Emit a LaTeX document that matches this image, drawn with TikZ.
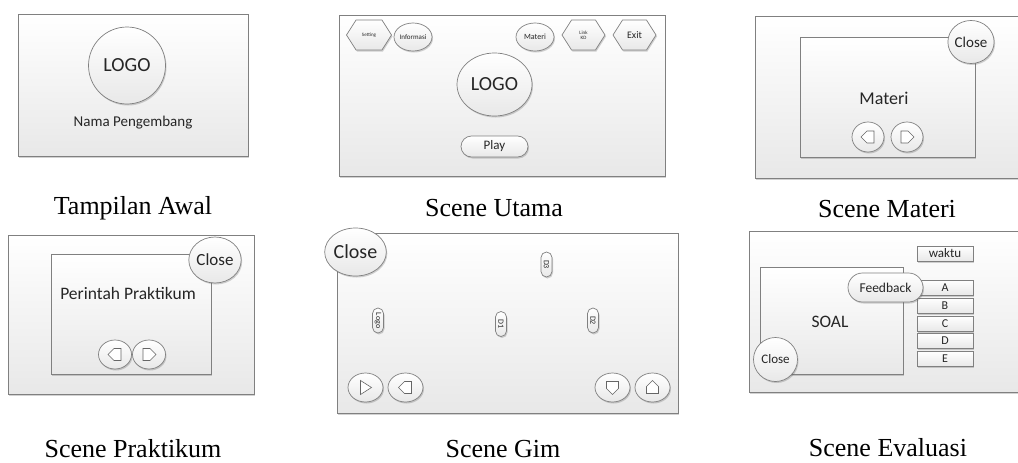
\documentclass[tikz,border=0pt]{standalone}
\usepackage{fontspec}
\setmainfont{Liberation Serif}
\newfontfamily\uifont{Carlito}
\usetikzlibrary{shapes.geometric,shapes.misc,shapes.symbols,shadows}
\newcommand\uisize[1]{\uifont\fontsize{#1}{#1}\selectfont}
% house-shaped arrow icon inside a round button
\newcommand\navicon[2]{%
  \begin{scope}[shift={(#1.center)}, rotate=#2]
    \draw[icon] (-6,-6) -- (1,-6) -- (7,0) -- (1,6) -- (-6,6) -- cycle;
  \end{scope}}
\begin{document}
\begin{tikzpicture}[x=1pt, y=-1pt,
  every node/.style={inner sep=0pt, outer sep=0pt, text=black!85},
  shade/.style={top color=white, bottom color=black!9},
  soft/.style={drop shadow={shadow xshift=1pt, shadow yshift=-1.5pt, opacity=0.25, fill=black!70}},
  frame/.style={draw=black!50, line width=0.7pt, shade, soft},
  panel/.style={frame, rectangle},
  btn/.style={frame, ellipse},
  hexbtn/.style={frame, signal, signal to=east and west, signal pointer angle=115,
                 minimum height=30pt, align=center},
  pill/.style={frame, rounded rectangle, rotate=-90, minimum width=25pt,
               minimum height=11pt, font=\uisize{8}},
  opt/.style={frame, minimum width=56pt, minimum height=15pt, font=\uisize{12}},
  icon/.style={draw=black!60, line width=0.6pt, fill=white},
  caption/.style={font=\fontsize{26}{26}\selectfont, anchor=base, text=black}]
\useasboundingbox (0,0) rectangle (1018,463);
\clip (0,0) rectangle (1018,463);

% ---------- Tampilan Awal ----------
\node[panel, minimum width=230pt, minimum height=142pt] (awal) at (133,85) {};
\node[btn, minimum size=77pt, font=\uisize{20}] (awallogo) at (127,65.5) {LOGO};
\node[font=\uisize{15}] (dev) at (133,123) {Nama Pengembang};
\node[caption] (capawal) at (133,214) {Tampilan Awal};

% ---------- Scene Utama ----------
\node[panel, minimum width=326pt, minimum height=161pt] (utama) at (502,95.5) {};
\node[hexbtn, minimum width=45pt, font=\uisize{5}] (setting) at (369,35) {Setting};
\node[btn, minimum width=38pt, minimum height=28pt, font=\uisize{7}] (info) at (413,37) {Informasi};
\node[btn, minimum width=38pt, minimum height=28pt, font=\uisize{8}] (materibtn) at (535,37) {Materi};
\node[hexbtn, minimum width=43pt, font=\uisize{5}] (kd) at (583.5,35) {Link\\KD};
\node[hexbtn, minimum width=43pt, font=\uisize{10}] (exit) at (634.5,35) {Exit};
\node[btn, minimum width=75pt, minimum height=63pt, font=\uisize{20}] (utamalogo) at (494.5,84.5) {LOGO};
\node[frame, rounded rectangle, minimum width=67pt, minimum height=21pt, font=\uisize{13}] (play) at (494.5,146.5) {Play};
\node[caption] (caputama) at (494,216) {Scene Utama};

% ---------- Scene Materi ----------
\node[panel, minimum width=270pt, minimum height=162pt] (materi) at (890,97) {};
\node[panel, minimum width=175pt, minimum height=120pt] (materibox) at (887.5,97) {};
\node[font=\uisize{18}] (materitext) at (884,98) {Materi};
\node[btn, minimum size=43pt, font=\uisize{15}] (mclose) at (971,42) {Close};
\node[btn, minimum width=32pt, minimum height=30pt] (mprev) at (868,137) {};
\node[btn, minimum width=32pt, minimum height=30pt] (mnext) at (907,137) {};
\navicon{mprev}{180}
\navicon{mnext}{0}
\node[caption] (capmateri) at (887,217) {Scene Materi};

% ---------- Scene Praktikum ----------
\node[panel, minimum width=246pt, minimum height=159pt] (prak) at (131,314.5) {};
\node[panel, minimum width=160pt, minimum height=120pt] (prakbox) at (131,314) {};
\node[font=\uisize{17.5}] (praktext) at (128,293) {Perintah Praktikum};
\node[btn, minimum width=48pt, minimum height=46pt, font=\uisize{17}] (pclose) at (215,260) {Close};
\node[btn, minimum width=33pt, minimum height=29pt] (pprev) at (115,354.5) {};
\node[btn, minimum width=33pt, minimum height=29pt] (pnext) at (149,354.5) {};
\navicon{pprev}{180}
\navicon{pnext}{0}
\node[caption] (capprak) at (133,457) {Scene Praktikum};

% ---------- Scene Gim ----------
\node[panel, minimum width=341pt, minimum height=180pt] (gim) at (507.5,323) {};
\node[btn, minimum width=55pt, minimum height=48pt, font=\uisize{20}] (gclose) at (355.5,252) {Close};
\node[pill] (d3) at (546.5,264.5) {D3};
\node[pill] (logo) at (378,320.5) {Logo};
\node[pill] (d1) at (501,324) {D1};
\node[pill] (d2) at (593,320.5) {D2};
\node[btn, minimum width=35pt, minimum height=29pt] (gright) at (365.5,387.5) {};
\node[btn, minimum width=35pt, minimum height=29pt] (gleft) at (405.5,387.5) {};
\node[btn, minimum width=35pt, minimum height=29pt] (gdown) at (612.5,387.5) {};
\node[btn, minimum width=35pt, minimum height=29pt] (gup) at (652.5,387.5) {};
\begin{scope}[shift={(gright.center)}]
  \draw[icon] (-5,-7) -- (6,0) -- (-5,7) -- cycle;
\end{scope}
\navicon{gleft}{180}
\navicon{gdown}{-90}
\navicon{gup}{90}
\node[caption] (capgim) at (503,457) {Scene Gim};

% ---------- Scene Evaluasi ----------
\node[panel, minimum width=276pt, minimum height=161pt] (eval) at (887,311.5) {};
\node[frame, minimum width=56pt, minimum height=15pt, font=\uisize{13}] (waktu) at (945,253.5) {waktu};
\node[panel, minimum width=143pt, minimum height=107pt] (soal) at (831.5,320.5) {};
\node[font=\uisize{17.5}] (soaltext) at (830,322) {SOAL};
\node[opt] (optA) at (945,287.5) {A};
\node[opt] (optB) at (945,305.5) {B};
\node[opt] (optC) at (945,323.5) {C};
\node[opt] (optD) at (945,341) {D};
\node[opt] (optE) at (945,359) {E};
\node[frame, rounded rectangle, minimum width=75pt, minimum height=29pt, font=\uisize{13.5}] (feedback) at (885.5,287.5) {Feedback};
\node[btn, minimum size=44pt, font=\uisize{13}] (eclose) at (775.5,359.5) {Close};
\node[caption] (capeval) at (888,456) {Scene Evaluasi};
\end{tikzpicture}
\end{document}
